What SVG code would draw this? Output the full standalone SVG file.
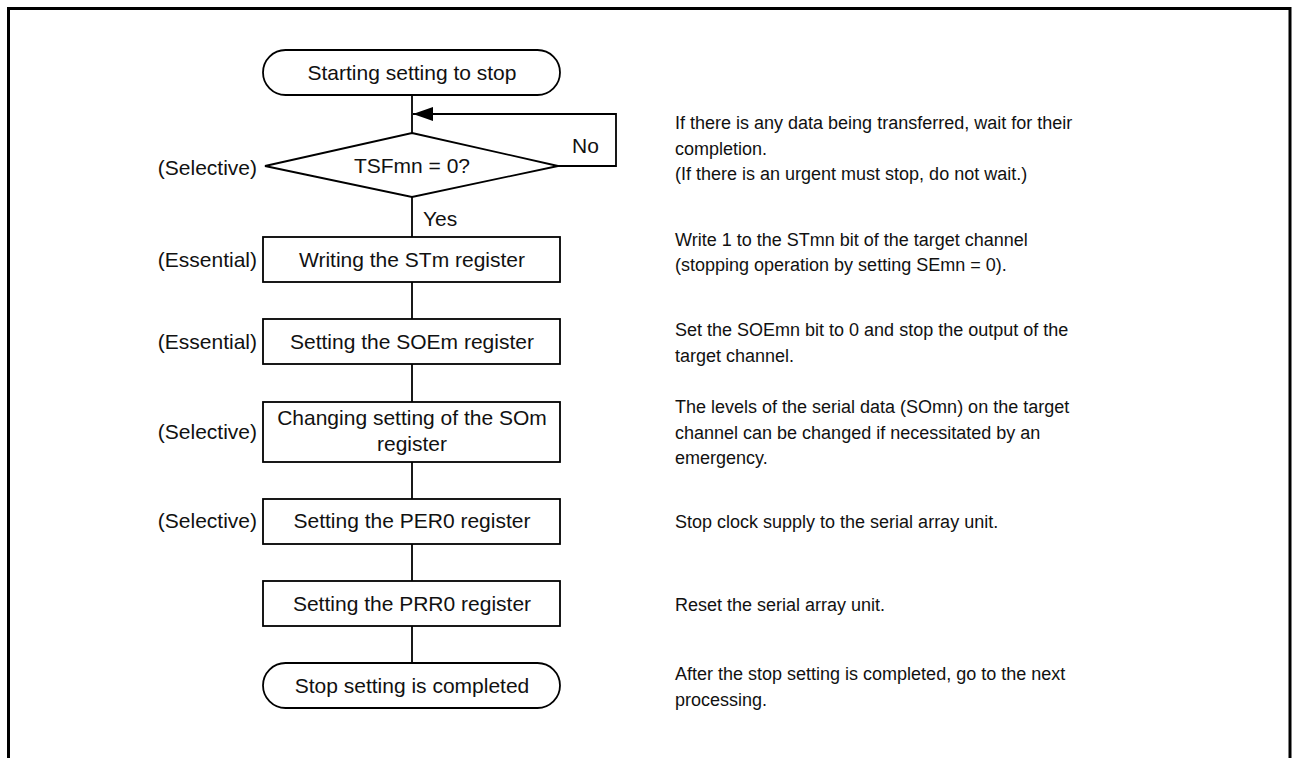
<svg xmlns="http://www.w3.org/2000/svg" width="1292" height="758" viewBox="0 0 1292 758">
<style>
.shape{fill:#fff;stroke:#000;stroke-width:1.8}
.ln{fill:none;stroke:#000;stroke-width:1.8}
.t{font-family:"Liberation Sans",Arial,sans-serif;font-size:21px;fill:#111}
.c{text-anchor:middle}
.r{text-anchor:end}
.d{font-family:"Liberation Sans",Arial,sans-serif;font-size:18px;fill:#111}
</style>
<defs>
<marker id="arr" markerWidth="20" markerHeight="14" refX="20" refY="7" orient="auto" markerUnits="userSpaceOnUse">
<path d="M0,0 L20,7 L0,14 Z" fill="#000"/>
</marker>
</defs>
<rect width="1292" height="758" fill="#fff"/>
<path d="M8.5,758 V8.5 H1290 V758" fill="none" stroke="#000" stroke-width="3"/>

<g id="connectors">
<line class="ln" x1="412" y1="95" x2="412" y2="133"/>
<path class="ln" d="M558,166 H616 V114 H413" marker-end="url(#arr)"/>
<line class="ln" x1="412" y1="197" x2="412" y2="237"/>
<line class="ln" x1="412" y1="282" x2="412" y2="319"/>
<line class="ln" x1="412" y1="364" x2="412" y2="402"/>
<line class="ln" x1="412" y1="462" x2="412" y2="499"/>
<line class="ln" x1="412" y1="544" x2="412" y2="581"/>
<line class="ln" x1="412" y1="626" x2="412" y2="663"/>
<text class="t" x="572" y="153">No</text>
<text class="t" x="423" y="226">Yes</text>
</g>

<g id="start">
<rect class="shape" x="263" y="50" width="297" height="45" rx="22.5" ry="22.5"/>
<text class="t c" x="412" y="80">Starting setting to stop</text>
</g>

<g id="decision">
<polygon class="shape" points="412,133 558,166 412,197 265,166"/>
<text class="t c" x="412" y="173">TSFmn = 0?</text>
<text class="t r" x="257" y="175">(Selective)</text>
<text class="d" x="675" y="129">If there is any data being transferred, wait for their</text>
<text class="d" x="675" y="154.5">completion.</text>
<text class="d" x="675" y="180">(If there is an urgent must stop, do not wait.)</text>
</g>

<g id="write-stm">
<rect class="shape" x="263" y="237" width="297" height="45"/>
<text class="t c" x="412" y="267">Writing the STm register</text>
<text class="t r" x="257" y="267">(Essential)</text>
<text class="d" x="675" y="245.5">Write 1 to the STmn bit of the target channel</text>
<text class="d" x="675" y="271">(stopping operation by setting SEmn = 0).</text>
</g>

<g id="set-soem">
<rect class="shape" x="263" y="319" width="297" height="45"/>
<text class="t c" x="412" y="349">Setting the SOEm register</text>
<text class="t r" x="257" y="349">(Essential)</text>
<text class="d" x="675" y="335.5">Set the SOEmn bit to 0 and stop the output of the</text>
<text class="d" x="675" y="361.5">target channel.</text>
</g>

<g id="change-som">
<rect class="shape" x="263" y="402" width="297" height="60"/>
<text class="t c" x="412" y="425">Changing setting of the SOm</text>
<text class="t c" x="412" y="451">register</text>
<text class="t r" x="257" y="439">(Selective)</text>
<text class="d" x="675" y="413">The levels of the serial data (SOmn) on the target</text>
<text class="d" x="675" y="438.5">channel can be changed if necessitated by an</text>
<text class="d" x="675" y="464">emergency.</text>
</g>

<g id="set-per0">
<rect class="shape" x="263" y="499" width="297" height="45"/>
<text class="t c" x="412" y="528">Setting the PER0 register</text>
<text class="t r" x="257" y="528">(Selective)</text>
<text class="d" x="675" y="528">Stop clock supply to the serial array unit.</text>
</g>

<g id="set-prr0">
<rect class="shape" x="263" y="581" width="297" height="45"/>
<text class="t c" x="412" y="611">Setting the PRR0 register</text>
<text class="d" x="675" y="611">Reset the serial array unit.</text>
</g>

<g id="end">
<rect class="shape" x="263" y="663" width="297" height="45" rx="22.5" ry="22.5"/>
<text class="t c" x="412" y="693">Stop setting is completed</text>
<text class="d" x="675" y="680">After the stop setting is completed, go to the next</text>
<text class="d" x="675" y="705.5">processing.</text>
</g>
</svg>
